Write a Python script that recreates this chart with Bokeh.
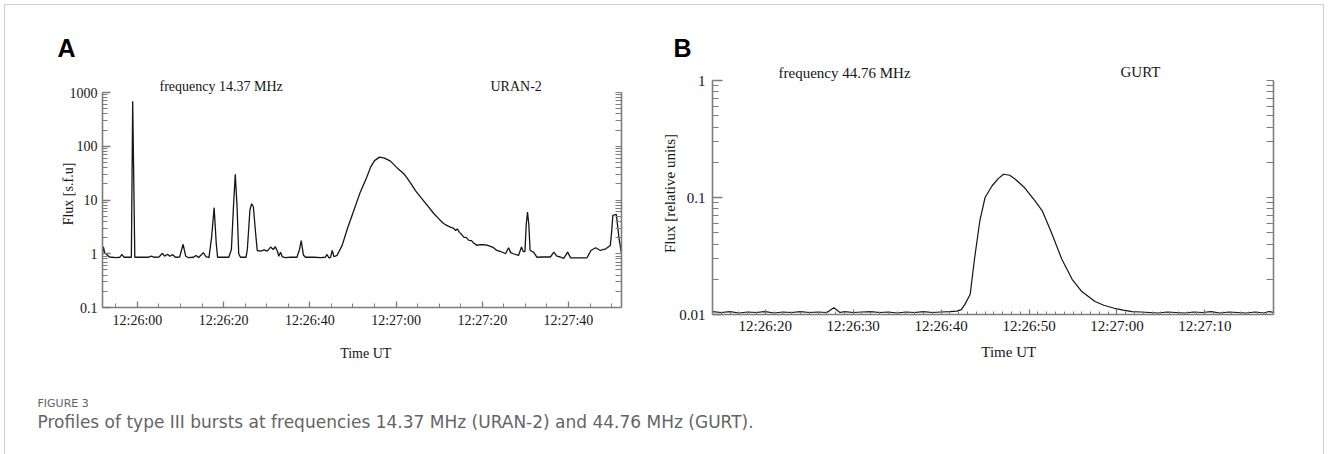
import math
from bokeh.plotting import figure
from bokeh.models import Range1d, FixedTicker, LogAxis, Label
from bokeh.embed import file_html
from bokeh.resources import INLINE

# ---------------- data ----------------
# Panel A: URAN-2, 14.37 MHz; time in seconds after 12:26:00 UT, flux in s.f.u.
uran_t = [-8.1, -7.9, -7.6, -7.2, -6.5, -5.0, -4.1, -3.6, -3.1, -1.6, -1.4, -1.1, -0.6,
          0.5, 2.5, 3.2, 4.0, 5.0, 5.8, 6.3, 7.0, 7.5, 8.2, 8.8, 9.8, 10.6, 11.2, 11.8,
          13.0, 13.6, 14.2, 15.3, 15.9, 16.6, 17.2, 17.8, 18.3, 18.6, 21.2, 21.8, 22.3,
          22.7, 23.1, 23.5, 23.9, 25.2, 25.5, 26.1, 26.5, 26.9, 27.4, 27.8, 28.6, 29.4,
          30.1, 30.9, 31.5, 32.0, 32.5, 32.8, 33.2, 33.6, 34.2, 35.5, 37.0, 37.6, 38.0,
          38.5, 39.0, 41.0, 42.5, 43.6, 44.0, 44.4, 44.8, 45.2, 45.6, 46.3, 47.5, 48.7,
          50.2, 51.7, 53.2, 54.1, 55.0, 56.2, 57.3, 58.7, 60.2, 61.8, 62.5, 63.5, 64.5,
          65.7, 67.2, 68.8, 70.0, 71.1, 72.0, 72.6, 73.3, 73.8, 74.2, 74.7, 75.2, 75.7,
          76.3, 76.9, 77.5, 78.0, 78.8, 79.5, 80.3, 81.1, 81.9, 82.6, 83.4, 84.3, 85.4,
          86.1, 86.6, 87.2, 88.4, 89.1, 89.5, 89.9, 90.2, 90.5, 90.8, 91.1, 91.9, 92.7,
          94.0, 95.8, 96.6, 97.3, 98.1, 98.9, 99.8, 100.5, 102.0, 104.3, 105.2, 106.3,
          107.4, 108.0, 108.6, 109.7, 110.0, 110.3, 111.1, 111.7, 112.3]
uran_flux = [1.0, 1.35, 1.05, 0.98, 0.87, 0.85, 0.86, 0.97, 0.86, 0.86, 0.86, 690, 0.86,
             0.86, 0.86, 0.9, 0.86, 0.87, 1.02, 0.9, 0.98, 0.9, 0.96, 0.86, 0.87, 1.5, 0.9, 0.85,
             0.86, 0.93, 0.85, 1.05, 0.88, 0.85, 2.0, 7.2, 1.5, 0.86, 0.86, 1.2, 8.0,
             30.0, 8.0, 1.0, 0.86, 0.86, 1.2, 6.5, 8.5, 7.5, 2.5, 1.15, 1.12, 1.18,
             1.12, 1.33, 1.2, 1.35, 1.1, 0.9, 1.07, 0.88, 0.85, 0.86, 0.86, 1.2, 1.75,
             0.95, 0.86, 0.86, 0.85, 0.86, 0.97, 0.84, 0.86, 1.15, 0.88, 0.93, 1.43, 2.92,
             6.4, 14.0, 26.6, 40.9, 54.0, 62.7, 60.0, 52.8, 40.0, 30.8, 26.0, 20.0, 15.0,
             11.3, 8.0, 5.55, 4.4, 3.62, 3.3, 3.13, 3.0, 2.71, 2.9, 2.5, 2.3, 2.04,
             2.0, 1.77, 1.75, 1.58, 1.43, 1.48, 1.47, 1.45, 1.37, 1.3, 1.15, 1.1, 1.0,
             1.29, 1.05, 1.0, 0.93, 1.33, 1.1, 1.1, 3.5, 5.95, 3.5, 1.15, 1.07, 0.86,
             0.87, 0.87, 1.07, 0.9, 0.87, 0.82, 1.07, 0.84, 0.84, 0.84, 1.15, 1.29,
             1.15, 1.2, 1.22, 1.43, 2.5, 5.2, 5.4, 2.0, 1.0]

# Panel B: GURT, 44.76 MHz; time in seconds after 12:26:00 UT, flux in relative units
gurt_t = [14.0, 15.0, 16.0, 17.0, 18.0, 19.0, 20.0, 21.0, 22.0, 23.0, 24.0, 25.0, 26.0,
          27.0, 27.8, 28.5, 29.0, 30.0, 31.0, 32.0, 33.0, 34.0, 35.0, 36.0, 37.0, 38.0,
          39.0, 40.0, 41.0, 41.8, 42.3, 42.7, 43.3, 43.8, 44.4, 45.0, 45.8, 46.5, 47.1,
          47.8, 48.4, 49.5, 50.7, 51.5, 52.6, 53.7, 54.9, 56.0, 57.5, 58.5, 59.7, 60.7,
          61.7, 62.7, 63.7, 64.7, 65.7, 66.7, 67.7, 68.7, 69.7, 70.7, 71.7, 72.7, 73.7,
          74.7, 75.7, 76.7, 77.3, 77.8]
gurt_flux = [0.0106, 0.0104, 0.0106, 0.0103, 0.0105, 0.0104, 0.0106, 0.0103, 0.0105,
             0.0104, 0.0106, 0.0104, 0.0105, 0.0104, 0.0114, 0.0104, 0.0106, 0.0104,
             0.0105, 0.0106, 0.0104, 0.0105, 0.0103, 0.0105, 0.0104, 0.0106, 0.0104,
             0.0105, 0.0106, 0.0107, 0.0110, 0.0122, 0.0148, 0.030, 0.063, 0.10, 0.126,
             0.145, 0.158, 0.155, 0.144, 0.121, 0.093, 0.077, 0.049, 0.030, 0.020,
             0.0157, 0.0129, 0.0120, 0.0113, 0.0109, 0.0106, 0.0105, 0.0104, 0.0103,
             0.0105, 0.0104, 0.0103, 0.0105, 0.0104, 0.0106, 0.0103, 0.0105, 0.0104,
             0.0103, 0.0105, 0.0103, 0.0106, 0.0104]

uran_xticks = [0, 20, 40, 60, 80, 100]
uran_xlabels = ["12:26:00", "12:26:20", "12:26:40", "12:27:00", "12:27:20", "12:27:40"]
uran_yticks = [0.1, 1, 10, 100, 1000]
uran_ylabels = ["0.1", "1", "10", "100", "1000"]

gurt_xticks = [20, 30, 40, 50, 60, 70]
gurt_xlabels = ["12:26:20", "12:26:30", "12:26:40", "12:26:50", "12:27:00", "12:27:10"]
gurt_yticks = [0.01, 0.1, 1]
gurt_ylabels = ["0.01", "0.1", "1"]

# ---------------- styling ----------------
SERIF = "Liberation Serif"
AXC = "#7d7d7d"
INK = "#151515"
RING = "#cfcfcf"


def place(left, top, shadows):
    return {"position": "absolute", "left": f"{left}px", "top": f"{top}px",
            "box-shadow": ", ".join(f"{s} {RING}" for s in shadows)}


def style_axis(ax, ticks, minor, labels, fsize, standoff, tin, min_in):
    ax.ticker = FixedTicker(ticks=ticks, minor_ticks=minor)
    ax.major_label_overrides = dict(zip(ticks, labels))
    ax.axis_line_color = AXC
    ax.axis_line_width = 1.6
    ax.major_tick_line_color = AXC
    ax.major_tick_line_width = 1.3
    ax.minor_tick_line_color = AXC
    ax.minor_tick_line_width = 1.0
    ax.major_tick_in = tin
    ax.major_tick_out = 0
    ax.minor_tick_in = min_in
    ax.minor_tick_out = 0
    ax.major_label_text_font = SERIF
    ax.major_label_text_font_size = f"{fsize}px"
    ax.major_label_text_color = INK
    ax.major_label_standoff = standoff


def mirror_axis(p, ticks, minor, tin):
    # right-hand mirror axis: ticks only, no labels
    ax = LogAxis()
    ax.ticker = FixedTicker(ticks=[], minor_ticks=list(ticks) + list(minor))
    ax.axis_line_color = AXC
    ax.axis_line_width = 1.6
    ax.minor_tick_line_color = AXC
    ax.minor_tick_line_width = 1.0
    ax.minor_tick_in = tin
    ax.minor_tick_out = 0
    p.add_layout(ax, "right")


def txt(p, side, x, y, text, size, font=SERIF, style="normal", align="left",
        angle=0.0, color=INK):
    p.add_layout(Label(x=x, y=y, x_units="canvas", y_units="canvas", text=text,
                       text_font=font, text_font_size=f"{size}px", text_font_style=style,
                       text_align=align, text_baseline="middle", angle=angle,
                       text_color=color), side)


# ---------------- panel A ----------------
pA = figure(width=635, height=375, title=None, x_range=Range1d(-8.1, 112.3),
            y_range=Range1d(0.1, 1000), y_axis_type="log", output_backend="svg",
            toolbar_location=None, min_border_left=97, min_border_right=19,
            min_border_top=87, min_border_bottom=73,
            styles=place(5, 5, ["-1px 0 0 0", "0 -1px 0 0", "-1px -1px 0 0"]))
pA.grid.visible = False
pA.outline_line_color = None
pA.line(uran_t, uran_flux, line_color=INK, line_width=1.3)

ya_minor = [m * 10.0 ** k for k in range(-1, 3) for m in range(2, 10)]
xa_minor = [t for t in range(-5, 115, 5) if t % 20 != 0]
style_axis(pA.xaxis[0], uran_xticks, xa_minor, uran_xlabels, 14, 5, 6, 4)
style_axis(pA.yaxis[0], uran_yticks, ya_minor, uran_ylabels, 14, 5, 8, 5)
mirror_axis(pA, uran_yticks, ya_minor, 6)

txt(pA, "above", 52, 42.5, "A", 25, font="Liberation Sans", style="bold", color="#000000")
txt(pA, "above", 154, 81, "frequency 14.37 MHz", 14)
txt(pA, "above", 485, 81, "URAN-2", 14)
txt(pA, "left", 62.5, 188.5, "Flux [s.f.u]", 14, align="center", angle=math.pi / 2)
txt(pA, "below", 362, 347.5, "Time  UT", 14, align="center")

# ---------------- panel B ----------------
pB = figure(width=683, height=375, title=None, x_range=Range1d(14.0, 77.8),
            y_range=Range1d(0.01, 1), y_axis_type="log", output_backend="svg",
            toolbar_location=None, min_border_left=72, min_border_right=50,
            min_border_top=75, min_border_bottom=66,
            styles=place(640, 5, ["1px 0 0 0", "0 -1px 0 0", "1px -1px 0 0"]))
pB.grid.visible = False
pB.outline_line_color = None
pB.line(gurt_t, gurt_flux, line_color=INK, line_width=1.2)

yb_minor = [m * 10.0 ** k for k in (-2, -1) for m in range(2, 10)]
xb_minor = [t for t in range(15, 78) if t % 10 != 0]
style_axis(pB.xaxis[0], gurt_xticks, xb_minor, gurt_xlabels, 15, 3, 5, 3)
style_axis(pB.yaxis[0], gurt_yticks, yb_minor, gurt_ylabels, 15, 7, 10, 6)
mirror_axis(pB, gurt_yticks, yb_minor, 7)

txt(pB, "above", 33, 42.5, "B", 25, font="Liberation Sans", style="bold", color="#000000")
txt(pB, "above", 138, 67, "frequency 44.76 MHz", 15)
txt(pB, "above", 480, 66.7, "GURT", 15)
txt(pB, "left", 29, 188, "Flux [relative units]", 15, align="center", angle=math.pi / 2)
txt(pB, "below", 372, 346.7, "Time   UT", 15, align="center")

# ---------------- caption ----------------
pC = figure(width=1318, height=74, x_range=Range1d(0, 1), y_range=Range1d(0, 1),
            x_axis_location=None, y_axis_location=None, output_backend="svg",
            toolbar_location=None, min_border=0, title=None,
            styles=place(5, 380, ["-1px 0 0 0", "1px 0 0 0"]))
pC.grid.visible = False
pC.outline_line_color = None
txt(pC, "center", 32, 23, "FIGURE 3", 11, font="DejaVu Sans", color="#5f5f5f")
txt(pC, "center", 32, 41,
    "Profiles of type III bursts at frequencies 14.37 MHz (URAN-2) and 44.76 MHz (GURT).",
    17, font="DejaVu Sans", color="#646464")

open("out.html", "w").write(file_html([pA, pB, pC], INLINE))
